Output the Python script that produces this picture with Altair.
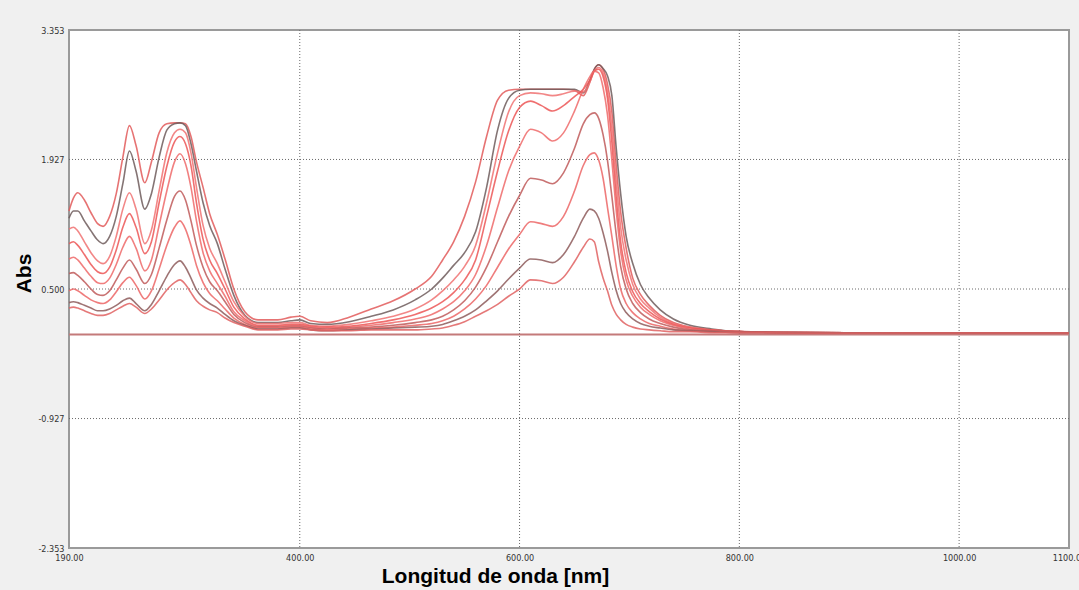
import altair as alt
import pandas as pd

# wavelength grid (nm)
wl = [190, 194, 198, 204, 210, 216, 221, 227, 233, 239, 245, 251, 259, 265, 272, 279, 286, 291, 296, 301,
      306, 312, 318, 325, 332, 340, 350, 362, 380, 392, 400, 410, 425, 445, 465, 485, 505, 520, 530, 540,
      550, 560, 570, 580, 590, 600, 610, 620, 630, 640, 650, 658, 664, 668, 672, 676, 680, 684, 688, 692,
      697, 703, 710, 718, 728, 740, 755, 775, 800, 850, 950, 1100]

s1 = [1.36, 1.50, 1.56, 1.48, 1.34, 1.22, 1.19, 1.30, 1.55, 1.95, 2.30, 2.08, 1.67, 1.90, 2.22, 2.32, 2.33, 2.33, 2.32, 2.18,
      1.90, 1.62, 1.33, 1.10, 0.83, 0.50, 0.25, 0.16, 0.16, 0.19, 0.20, 0.15, 0.13, 0.19, 0.28, 0.37, 0.50, 0.64, 0.82, 1.02,
      1.30, 1.68, 2.18, 2.58, 2.69, 2.70, 2.70, 2.70, 2.70, 2.70, 2.69, 2.63, 2.78, 2.92, 2.97, 2.92, 2.76, 2.45, 1.85, 1.35,
      0.95, 0.62, 0.44, 0.32, 0.21, 0.13, 0.08, 0.05, 0.03, 0.02, 0.015, 0.015]
s2 = [1.28, 1.36, 1.36, 1.25, 1.14, 1.04, 1.00, 1.08, 1.30, 1.66, 2.02, 1.80, 1.38, 1.55, 1.95, 2.25, 2.32, 2.33, 2.30, 2.10,
      1.80, 1.45, 1.20, 1.00, 0.72, 0.43, 0.21, 0.13, 0.13, 0.15, 0.16, 0.12, 0.11, 0.14, 0.20, 0.27, 0.38, 0.50, 0.62, 0.76,
      0.90, 1.13, 1.62, 2.25, 2.60, 2.69, 2.70, 2.70, 2.70, 2.70, 2.70, 2.66, 2.80, 2.92, 2.97, 2.93, 2.85, 2.63, 2.05, 1.55,
      1.08, 0.78, 0.55, 0.40, 0.27, 0.17, 0.10, 0.06, 0.03, 0.02, 0.015, 0.015]
s3 = [1.16, 1.18, 1.14, 1.02, 0.90, 0.81, 0.78, 0.86, 1.08, 1.38, 1.56, 1.38, 1.00, 1.15, 1.58, 2.00, 2.22, 2.26, 2.22, 2.00,
      1.62, 1.20, 0.95, 0.78, 0.58, 0.36, 0.20, 0.12, 0.12, 0.13, 0.13, 0.10, 0.09, 0.11, 0.15, 0.20, 0.28, 0.38, 0.48, 0.60,
      0.75, 0.98, 1.45, 2.00, 2.45, 2.63, 2.66, 2.65, 2.63, 2.65, 2.68, 2.67, 2.78, 2.90, 2.94, 2.88, 2.68, 2.28, 1.68, 1.18,
      0.82, 0.55, 0.39, 0.29, 0.19, 0.12, 0.08, 0.05, 0.03, 0.02, 0.015, 0.015]
s4 = [1.00, 1.02, 0.98, 0.88, 0.77, 0.69, 0.67, 0.74, 0.93, 1.18, 1.33, 1.18, 0.89, 1.02, 1.45, 1.85, 2.12, 2.18, 2.10, 1.86,
      1.45, 1.05, 0.82, 0.67, 0.50, 0.30, 0.17, 0.10, 0.10, 0.11, 0.11, 0.09, 0.08, 0.09, 0.12, 0.16, 0.22, 0.29, 0.36, 0.46,
      0.60, 0.82, 1.30, 1.80, 2.24, 2.50, 2.57, 2.52, 2.46, 2.52, 2.62, 2.70, 2.80, 2.90, 2.92, 2.84, 2.60, 2.12, 1.50, 1.02,
      0.68, 0.47, 0.34, 0.25, 0.17, 0.11, 0.07, 0.05, 0.03, 0.02, 0.015, 0.015]
s5 = [0.83, 0.85, 0.82, 0.73, 0.64, 0.57, 0.56, 0.62, 0.77, 0.96, 1.08, 0.95, 0.70, 0.82, 1.20, 1.58, 1.90, 1.99, 1.88, 1.62,
      1.25, 0.90, 0.70, 0.56, 0.42, 0.25, 0.15, 0.09, 0.09, 0.10, 0.10, 0.08, 0.07, 0.08, 0.10, 0.13, 0.17, 0.22, 0.28, 0.36,
      0.48, 0.66, 0.98, 1.40, 1.80, 2.07, 2.26, 2.22, 2.13, 2.22, 2.46, 2.70, 2.84, 2.90, 2.88, 2.72, 2.42, 1.92, 1.36, 0.92,
      0.60, 0.42, 0.30, 0.22, 0.15, 0.10, 0.06, 0.04, 0.03, 0.02, 0.015, 0.015]
s6 = [0.67, 0.68, 0.65, 0.58, 0.50, 0.44, 0.43, 0.48, 0.60, 0.73, 0.82, 0.72, 0.56, 0.66, 0.95, 1.26, 1.52, 1.58, 1.48, 1.25,
      0.98, 0.74, 0.58, 0.48, 0.36, 0.22, 0.13, 0.08, 0.08, 0.09, 0.09, 0.07, 0.06, 0.07, 0.08, 0.10, 0.13, 0.16, 0.20, 0.27,
      0.37, 0.52, 0.74, 1.02, 1.30, 1.53, 1.72, 1.70, 1.66, 1.78, 2.05, 2.32, 2.42, 2.44, 2.38, 2.20, 1.92, 1.52, 1.10, 0.75,
      0.50, 0.34, 0.24, 0.17, 0.12, 0.08, 0.05, 0.04, 0.03, 0.02, 0.015, 0.015]
s7 = [0.48, 0.50, 0.48, 0.43, 0.38, 0.35, 0.34, 0.38, 0.47, 0.57, 0.63, 0.54, 0.39, 0.48, 0.72, 0.98, 1.18, 1.25, 1.16, 0.98,
      0.76, 0.57, 0.45, 0.37, 0.28, 0.18, 0.11, 0.07, 0.07, 0.08, 0.08, 0.06, 0.05, 0.06, 0.07, 0.08, 0.10, 0.12, 0.15, 0.20,
      0.28, 0.39, 0.54, 0.74, 0.94, 1.10, 1.24, 1.22, 1.19, 1.30, 1.58, 1.86, 1.98, 2.00, 1.92, 1.72, 1.40, 1.08, 0.75, 0.50,
      0.34, 0.24, 0.17, 0.12, 0.09, 0.06, 0.04, 0.03, 0.02, 0.02, 0.015, 0.015]
s8 = [0.35, 0.36, 0.35, 0.32, 0.29, 0.26, 0.26, 0.28, 0.32, 0.37, 0.40, 0.34, 0.26, 0.33, 0.48, 0.64, 0.77, 0.81, 0.74, 0.62,
      0.49, 0.40, 0.34, 0.29, 0.22, 0.15, 0.10, 0.06, 0.06, 0.07, 0.07, 0.05, 0.04, 0.05, 0.06, 0.07, 0.08, 0.09, 0.11, 0.15,
      0.20, 0.27, 0.37, 0.48, 0.61, 0.73, 0.83, 0.82, 0.79, 0.88, 1.08, 1.28, 1.38, 1.36, 1.28, 1.12, 0.92, 0.68, 0.48, 0.34,
      0.24, 0.17, 0.12, 0.09, 0.07, 0.05, 0.04, 0.03, 0.02, 0.02, 0.015, 0.015]
s9 = [0.29, 0.30, 0.29, 0.26, 0.23, 0.21, 0.21, 0.23, 0.27, 0.31, 0.34, 0.30, 0.23, 0.28, 0.38, 0.49, 0.57, 0.60, 0.55, 0.46,
      0.37, 0.31, 0.27, 0.24, 0.18, 0.13, 0.09, 0.05, 0.05, 0.06, 0.06, 0.05, 0.04, 0.04, 0.05, 0.05, 0.05, 0.06, 0.07, 0.10,
      0.14, 0.20, 0.26, 0.33, 0.42, 0.50, 0.60, 0.59, 0.56, 0.63, 0.80, 0.96, 1.05, 1.02, 0.80, 0.62, 0.48, 0.32, 0.22, 0.16,
      0.11, 0.08, 0.06, 0.05, 0.04, 0.03, 0.03, 0.02, 0.02, 0.015, 0.015, 0.015]

names = ["s1", "s2", "s3", "s4", "s5", "s6", "s7", "s8", "s9"]
series = [s1, s2, s3, s4, s5, s6, s7, s8, s9]
colors = ["#e25a5a", "#6e5c5c", "#f07272", "#ec5656", "#ee6a6a", "#bf5a5a", "#ec6666", "#8e5c5c", "#e06262"]

x_ticks = [190, 400, 600, 800, 1000, 1100]
y_ticks = [-2.353, -0.927, 0.5, 1.927, 3.353]
x_grid = [400, 600, 800, 1000]
y_grid = [1.927, 0.5, -0.927]
baseline = [0.0]

rows = []
for n, s in zip(names, series):
    for w, v in zip(wl, s):
        rows.append({"wl": w, "abs": v, "curve": n})
df = pd.DataFrame(rows)

xscale = alt.Scale(domain=[190, 1100], nice=False, zero=False)
yscale = alt.Scale(domain=[-2.353, 3.353], nice=False, zero=False)

lbl_font = "Liberation Sans Narrow, DejaVu Sans Condensed, Liberation Sans, sans-serif"

xaxis = alt.Axis(values=x_ticks, format=".2f", grid=False, ticks=False, domain=False,
                 labelFlush=False, labelOverlap=False, labelFontSize=9, labelFont=lbl_font,
                 labelColor="#333333", labelPadding=5,
                 title="Longitud de onda [nm]", titleFont="Liberation Sans", titleFontSize=21,
                 titleFontWeight="bold", titleColor="#000000", titleX=426, titleY=34,
                 titleAlign="center", titleBaseline="alphabetic")
yaxis = alt.Axis(values=y_ticks, grid=False, ticks=False, domain=False,
                 labelExpr="replace(format(datum.value, '.3f'), '−', '-')",
                 labelOverlap=False, labelFontSize=9, labelFont=lbl_font,
                 labelColor="#333333", labelPadding=5,
                 title="Abs", titleFont="Liberation Sans", titleFontSize=21,
                 titleFontWeight="bold", titleColor="#000000", titleX=-39, titleY=243,
                 titleAngle=270, titleAlign="center", titleBaseline="alphabetic")

gx = alt.Chart(pd.DataFrame({"g": x_grid})).mark_rule(
    color="#6a6a6a", strokeDash=[1, 2], strokeWidth=1).encode(x=alt.X("g:Q", scale=xscale, axis=xaxis))
gy = alt.Chart(pd.DataFrame({"g": y_grid})).mark_rule(
    color="#6a6a6a", strokeDash=[1, 2], strokeWidth=1).encode(y=alt.Y("g:Q", scale=yscale, axis=yaxis))
base = alt.Chart(pd.DataFrame({"b": baseline})).mark_rule(
    color="#c47a7a", strokeWidth=2).encode(y=alt.Y("b:Q", scale=yscale))

lines = alt.Chart(df).mark_line(interpolate="monotone", strokeWidth=1.6, opacity=0.85).encode(
    x=alt.X("wl:Q", scale=xscale),
    y=alt.Y("abs:Q", scale=yscale),
    color=alt.Color("curve:N", scale=alt.Scale(domain=names, range=colors), legend=None),
)

chart = alt.layer(gx, gy, base, lines).properties(
    width=1000, height=518,
    autosize=alt.AutoSizeParams(type="none"),
    padding={"left": 69, "top": 30, "right": 10, "bottom": 42},
    background="#f0f0f0",
).configure_view(stroke="#9a9a9a", strokeWidth=2, fill="white")

chart.save("out.html", embed_options={"renderer": "svg", "actions": False})
